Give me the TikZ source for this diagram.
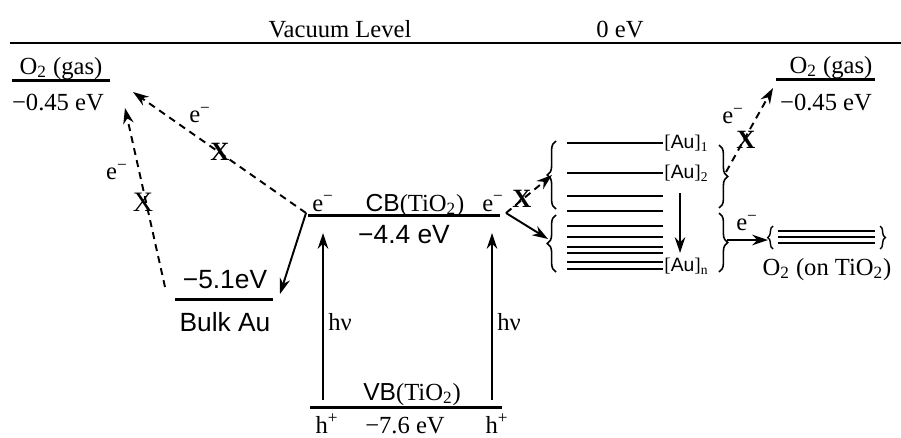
\documentclass[tikz,border=0pt]{standalone}
\usepackage{fontspec}
\setmainfont{Liberation Serif}
\setsansfont{Liberation Sans}
\usepackage{tikz}
\usetikzlibrary{arrows.meta, positioning, calc, decorations.pathreplacing}

\newcommand{\elec}{e\textsuperscript{−}}
\newcommand{\hole}{h\textsuperscript{+}}

\begin{document}
\begin{tikzpicture}[
  x=0.02cm, y=-0.02cm,
  >=Stealth,
  font=\fontsize{14}{16}\selectfont,
  level/.style={line width=1.7pt},
  flow/.style={->, line width=1.1pt, >={Stealth[length=9pt, width=6pt]}},
  blocked/.style={flow, dash pattern=on 4pt off 3pt},
  txt/.style={inner sep=0pt, anchor=base},
  sftxt/.style={txt, font=\sffamily\fontsize{15}{17}\selectfont},
  cross/.style={inner sep=0pt, font=\bfseries\fontsize{15}{17}\selectfont},
  aulbl/.style={inner sep=0pt, anchor=west, font=\fontsize{11}{13}\selectfont},
  clbrace/.style={decorate, decoration={brace, amplitude=5pt}, line width=0.9pt}
]
\useasboundingbox (0,0) rectangle (901,437);

% VACUUM LEVEL
\coordinate (vacL) at (10,43);
\coordinate (vacR) at (901,43);
\draw[level] (vacL) -- (vacR);
\node[txt] (vaclbl) at (340,37) {Vacuum Level};
\node[txt] (zerolbl) at (620,37) {0 eV};

% O2 (GAS), LEFT AND RIGHT
\coordinate (o2lL) at (12,80);
\coordinate (o2lR) at (110,80);
\draw[level] (o2lL) -- (o2lR);
\node[txt] (o2lname) at (61,74) {O\textsubscript{2} (gas)};
\node[txt] (o2lE) at (58,110) {−0.45 eV};

\coordinate (o2rL) at (776,79);
\coordinate (o2rR) at (875,79);
\draw[level] (o2rL) -- (o2rR);
\node[txt] (o2rname) at (831,73) {O\textsubscript{2} (gas)};
\node[txt] (o2rE) at (826,110) {−0.45 eV};

% BULK AU
\coordinate (auL) at (175,299);
\coordinate (auR) at (273,299);
\draw[level] (auL) -- (auR);
\node[sftxt] (auE) at (225,288) {−5.1eV};
\node[sftxt] (auname) at (225,331) {Bulk Au};

% TIO2 BANDS
\coordinate (cbL) at (308,215);
\coordinate (cbR) at (500,215);
\draw[level] (cbL) -- (cbR);
\node[txt] (cbname) at (415,211) {{\sffamily CB}(TiO\textsubscript{2})};
\node[sftxt] (cbE) at (404,243) {−4.4 eV};
\node[txt] (eL) at (323,211) {\elec};
\node[txt] (eR) at (493,211) {\elec};

\coordinate (vbL) at (310,407);
\coordinate (vbR) at (502,407);
\draw[level] (vbL) -- (vbR);
\node[txt] (vbname) at (412,400) {{\sffamily VB}(TiO\textsubscript{2})};
\node[txt] (vbE) at (405,433) {−7.6 eV};
\node[txt] (hL) at (327,433) {\hole};
\node[txt] (hR) at (497,433) {\hole};

% EXCITATION
\coordinate (hvLb) at (323,400);
\coordinate (hvLt) at (323,233);
\coordinate (hvRb) at (492,400);
\coordinate (hvRt) at (492,233);
\draw[flow] (hvLb) -- (hvLt);
\draw[flow] (hvRb) -- (hvRt);
\node[inner sep=0pt, anchor=west] (hvL) at (328,322) {hν};
\node[inner sep=0pt, anchor=west] (hvR) at (497,322) {hν};

% TRANSFER TO BULK AU AND O2 (GAS)
\coordinate (cbout) at (306,213);
\coordinate (auhit) at (280,294);
\coordinate (o2lhit) at (133,92);
\coordinate (aut) at (165,287);
\coordinate (o2lhit2) at (125,108);
\draw[flow] (cbout) -- (auhit);
\draw[blocked] (cbout) -- (o2lhit);
\draw[blocked] (aut) -- (o2lhit2);
\node[cross] (x1) at (220,152) {X};
\node[inner sep=0pt, font=\fontsize{16}{17}\selectfont] (x2) at (143,202) {X};
\node (e1) at (200,115) {\elec};
\node (e2) at (117,172) {\elec};

% AU CLUSTER LEVELS
\foreach \y/\w in {143/0.8, 173/0.8, 196/1.4, 211/1.4, 226/1.4, 237/1.4, 247/1.4, 253/1.4, 262/1.4, 269/1.4}
  \draw[line width=\w pt] (567,\y) -- (663,\y);
\node[aulbl] (au1) at (664,143) {[{\sffamily Au}]\textsubscript{1}};
\node[aulbl] (au2) at (664,173) {[{\sffamily Au}]\textsubscript{2}};
\node[aulbl] (aun) at (664,266) {[{\sffamily Au}]\textsubscript{n}};
\coordinate (relaxT) at (680,193);
\coordinate (relaxB) at (680,253);
\draw[flow] (relaxT) -- (relaxB);

\draw[clbrace] (556,209) -- (556,141);
\draw[clbrace] (556,272) -- (556,215);
\draw[clbrace] (719,145) -- (719,208);
\draw[clbrace] (719,213) -- (719,272);

% TRANSFER FROM CB TO AU CLUSTERS
\coordinate (cbout2) at (506,213);
\coordinate (uphit) at (552,175);
\coordinate (lowhit) at (548,239);
\draw[blocked] (cbout2) -- (uphit);
\draw[flow] (cbout2) -- (lowhit);
\node[cross] (x3) at (522,199) {X};

% TRANSFER FROM AU CLUSTERS TO O2
\coordinate (upout) at (726,172);
\coordinate (o2rhit) at (773,88);
\draw[blocked] (upout) -- (o2rhit);
\node[cross] (x4) at (746,140) {X};
\node (e3) at (733,116) {\elec};

\coordinate (lowout) at (727,240);
\coordinate (o2shit) at (768,240);
\draw[flow] (lowout) -- (o2shit);
\node (e4) at (747,223) {\elec};

% O2 ON TIO2
\foreach \y in {231,237,243}
  \draw[line width=1pt] (778,\y) -- (875,\y);
\draw[decorate, decoration={brace, amplitude=3pt}, line width=0.8pt] (773,249) -- (773,226);
\draw[decorate, decoration={brace, amplitude=3pt}, line width=0.8pt] (880,226) -- (880,249);
\node[txt] (o2sname) at (827,275) {O\textsubscript{2} (on TiO\textsubscript{2})};

\end{tikzpicture}
\end{document}
